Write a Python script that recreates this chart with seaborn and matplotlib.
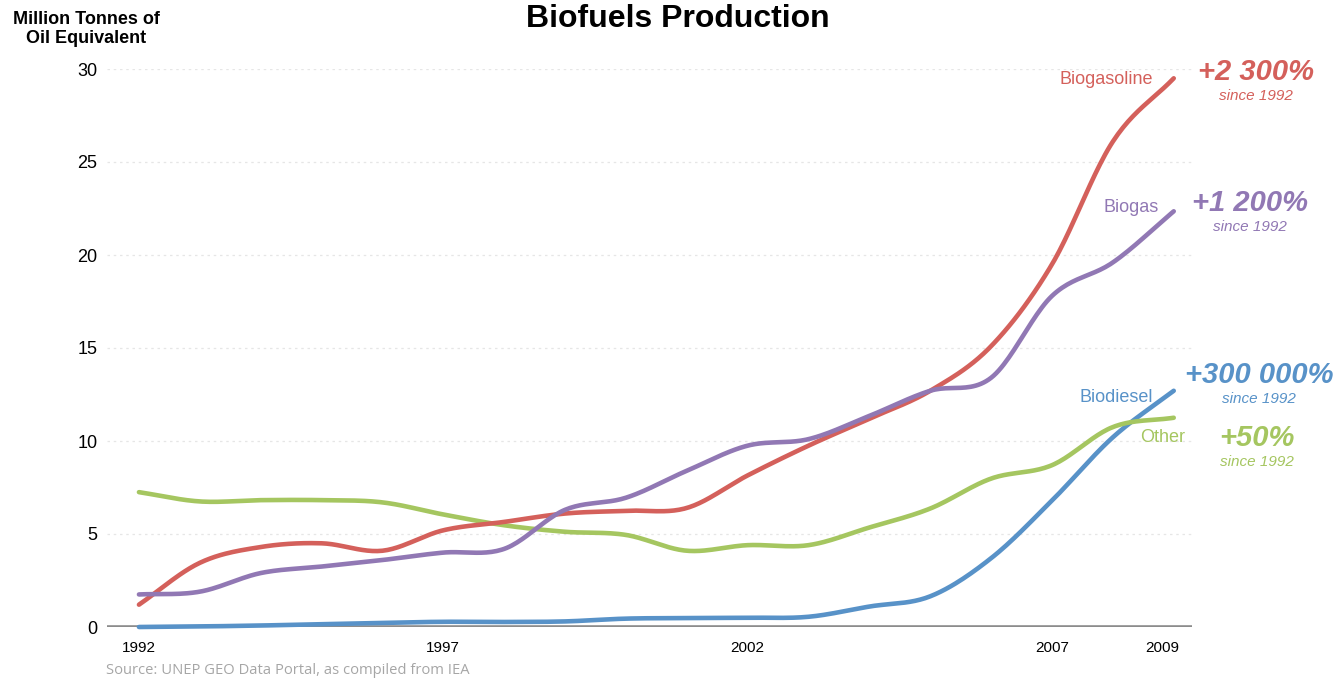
import numpy as np
import pandas as pd
import seaborn as sns
import matplotlib.pyplot as plt
from matplotlib.transforms import ScaledTranslation

sns.set_theme(style='white')
plt.rcParams['font.family'] = ['Liberation Sans', 'DejaVu Sans']
plt.rcParams['text.color'] = 'black'

years = list(range(1992, 2010))
biogasoline = [1.2, 3.45, 4.3, 4.5, 4.1, 5.2, 5.65, 6.1, 6.25, 6.4, 8.15, 9.75,
               11.2, 12.7, 15.1, 19.5, 26.1, 29.5]
biogas = [1.75, 1.9, 2.9, 3.25, 3.6, 4.0, 4.2, 6.3, 6.95, 8.4, 9.75, 10.1,
          11.35, 12.7, 13.4, 17.8, 19.6, 22.35]
biodiesel = [0.0, 0.03, 0.08, 0.15, 0.22, 0.28, 0.27, 0.3, 0.45, 0.48, 0.5, 0.55,
             1.1, 1.65, 3.7, 6.8, 10.2, 12.7]
other = [7.25, 6.75, 6.82, 6.82, 6.7, 6.05, 5.47, 5.12, 4.95, 4.1, 4.4, 4.4,
         5.35, 6.37, 7.98, 8.7, 10.75, 11.25]

series = ['Biodiesel', 'Other', 'Biogasoline', 'Biogas']
values = {'Biodiesel': biodiesel, 'Other': other,
          'Biogasoline': biogasoline, 'Biogas': biogas}
colors = {'Biogasoline': '#d4605b', 'Biogas': '#9178b4',
          'Biodiesel': '#5892c8', 'Other': '#a5c660'}
growth = {'Biogasoline': '+2 300%', 'Biogas': '+1 200%',
          'Biodiesel': '+300 000%', 'Other': '+50%'}


def smooth(x, y, n=24):
    # cubic hermite through the yearly points, like the original spline chart
    x = np.asarray(x, float)
    y = np.asarray(y, float)
    m = np.gradient(y, x)
    t = np.linspace(0, 1, n, endpoint=False)
    xs, ys = [], []
    for i in range(len(x) - 1):
        h = x[i + 1] - x[i]
        h00 = 2 * t**3 - 3 * t**2 + 1
        h10 = t**3 - 2 * t**2 + t
        h01 = -2 * t**3 + 3 * t**2
        h11 = t**3 - t**2
        ys.append(h00 * y[i] + h10 * h * m[i] + h01 * y[i + 1] + h11 * h * m[i + 1])
        xs.append(x[i] + t * h)
    xs.append([x[-1]])
    ys.append([y[-1]])
    return np.concatenate(xs), np.concatenate(ys)


frames = []
for name in series:
    xs, ys = smooth(years, values[name])
    frames.append(pd.DataFrame({'year': xs, 'value': ys, 'series': name}))
df = pd.concat(frames, ignore_index=True)

fig = plt.figure(figsize=(13.43, 6.8), dpi=100)
ax = fig.add_axes([107 / 1343, 53 / 680, 1085 / 1343, 558 / 680])

ax.axhline(0, color='#8c8c8c', linewidth=2.6, zorder=1)
for v in range(5, 31, 5):
    ax.axhline(v, color='#e6e6e6', linewidth=0.9, linestyle=(0, (2, 3)), zorder=0)

sns.lineplot(data=df, x='year', y='value', hue='series', hue_order=series,
             palette=colors, linewidth=3.3, legend=False, sort=False,
             estimator=None, ax=ax, clip_on=False, solid_capstyle='round',
             zorder=3)

ax.set_xlim(1991.475, 2009.3)
ax.set_ylim(0, 30)
ax.set_xlabel('')
ax.set_ylabel('')
for s in ax.spines.values():
    s.set_visible(False)

ax.set_yticks(range(0, 31, 5))
ax.set_xticks([1992, 1997, 2002, 2007, 2009])
ax.tick_params(axis='y', labelsize=13, pad=7, colors='black', length=0)
ax.tick_params(axis='x', labelsize=11, pad=10, colors='black', length=0)
last = ax.get_xticklabels()[-1]
last.set_transform(last.get_transform() + ScaledTranslation(-0.11, 0, fig.dpi_scale_trans))

fig.text(678 / 1343, 1 - 19 / 680, 'Biofuels Production', ha='center', va='center',
         fontsize=23, fontweight='bold', color='black')
fig.text(86 / 1343, 1 - 29 / 680, 'Million Tonnes of\nOil Equivalent', ha='center',
         va='center', fontsize=13, fontweight='bold', linespacing=1.2, color='black')
fig.text(106 / 1343, 1 - 670 / 680, 'Source: UNEP GEO Data Portal, as compiled from IEA',
         ha='left', va='center', fontsize=10.6, color='#a6a6a6',
         family=['Open Sans', 'DejaVu Sans'])

# series names near the line ends
name_pos = {'Biogasoline': (1153, 79), 'Biogas': (1159, 208),
            'Biodiesel': (1153, 397), 'Other': (1185, 437)}
for name, (px, py) in name_pos.items():
    fig.text(px / 1343, 1 - py / 680, name, ha='right', va='center',
             fontsize=13, color=colors[name])

# growth since 1992
growth_pos = {'Biogasoline': (1256, 72), 'Biogas': (1250, 203),
              'Biodiesel': (1259, 375), 'Other': (1257, 438)}
for name, (px, py) in growth_pos.items():
    fig.text(px / 1343, 1 - py / 680, growth[name], ha='center', va='center',
             fontsize=21, fontweight='bold', style='italic', color=colors[name])
    fig.text(px / 1343, 1 - (py + 24) / 680, 'since 1992', ha='center', va='center',
             fontsize=11, style='italic', color=colors[name])

fig.savefig('out.png', dpi=100)
